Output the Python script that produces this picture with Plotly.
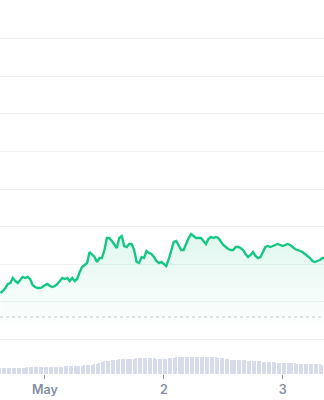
import pandas as pd
import plotly.graph_objects as go

# Price readings (arbitrary $ units), one every 30 minutes starting Apr 30 15:00
price = [
    1.083, 1.085, 1.088, 1.092, 1.093, 1.098, 1.095, 1.093, 1.096, 1.099,
    1.098, 1.099, 1.097, 1.091, 1.089, 1.088, 1.088, 1.089, 1.091, 1.092,
    1.090, 1.089, 1.090, 1.092, 1.095, 1.098, 1.097, 1.098, 1.095, 1.098,
    1.095, 1.097, 1.104, 1.109, 1.111, 1.113, 1.124, 1.121, 1.119, 1.114,
    1.118, 1.118, 1.126, 1.138, 1.138, 1.135, 1.131, 1.128, 1.138, 1.140,
    1.130, 1.129, 1.132, 1.132, 1.126, 1.114, 1.113, 1.119, 1.118, 1.125,
    1.123, 1.122, 1.119, 1.115, 1.113, 1.114, 1.112, 1.110, 1.117, 1.126,
    1.134, 1.135, 1.131, 1.126, 1.126, 1.132, 1.138, 1.142, 1.140, 1.138,
    1.138, 1.138, 1.135, 1.132, 1.137, 1.139, 1.138, 1.139, 1.138, 1.134,
    1.131, 1.129, 1.127, 1.126, 1.126, 1.129, 1.129, 1.128, 1.126, 1.122,
    1.119, 1.121, 1.124, 1.120, 1.118, 1.119, 1.124, 1.129, 1.130, 1.129,
    1.130, 1.131, 1.132, 1.131, 1.130, 1.131, 1.132, 1.131, 1.129, 1.127,
    1.126, 1.125, 1.124, 1.122, 1.120, 1.118, 1.115, 1.114, 1.115, 1.116,
    1.118, 1.118,
]

volume = [
    6, 6, 6, 6, 6, 6, 6, 6, 6, 6,
    6, 7, 7, 7, 7, 7, 7, 7, 7, 7,
    7, 7, 7, 7, 7, 7, 8, 8, 8, 8,
    8, 8, 8, 8, 9, 9, 9, 9, 10, 10,
    11, 12, 13, 13, 13, 14, 14, 14, 15, 15,
    15, 15, 15, 15, 15, 16, 16, 16, 16, 16,
    16, 16, 16, 15, 15, 15, 15, 15, 16, 16,
    16, 17, 17, 17, 17, 17, 17, 17, 17, 17,
    17, 17, 17, 17, 17, 17, 17, 17, 16, 16,
    16, 15, 15, 14, 14, 14, 14, 14, 14, 14,
    13, 13, 13, 13, 13, 13, 12, 12, 12, 12,
    12, 12, 11, 11, 11, 11, 11, 11, 11, 11,
    10, 10, 10, 10, 10, 10, 10, 10, 10, 10,
    9, 9,
]

times = pd.date_range("2024-04-30 15:00", periods=len(price), freq="30min")

tick_dates = ["2024-05-01", "2024-05-02", "2024-05-03"]
tick_labels = ["May", "2", "3"]

grid_levels = [1.037, 1.075, 1.112, 1.150, 1.187, 1.225, 1.263, 1.300, 1.338]
ref_price = 1.059

GREEN = "#16c784"

fig = go.Figure()

fig.add_trace(go.Bar(
    x=times, y=volume, yaxis="y2",
    marker=dict(color="#d8dcea", line=dict(width=0)),
    width=30 * 60 * 1000 * 0.55,
    hoverinfo="skip",
))

fig.add_trace(go.Scatter(
    x=times, y=price, mode="lines",
    line=dict(color=GREEN, width=2.4, shape="linear"),
    fill="tozeroy",
    fillgradient=dict(
        type="vertical",
        colorscale=[[0, "rgba(22,199,132,0)"], [1, "rgba(22,199,132,0.13)"]],
        start=1.045, stop=1.14,
    ),
    hoverinfo="skip",
))

fig.add_shape(type="line", xref="paper", x0=0, x1=1, yref="y",
              y0=ref_price, y1=ref_price,
              line=dict(color="#c3c8d2", width=1, dash="dot"))

fig.update_layout(
    width=324, height=400,
    margin=dict(l=0, r=0, t=0, b=26),
    paper_bgcolor="white", plot_bgcolor="white",
    showlegend=False,
    bargap=0,
    xaxis=dict(
        range=["2024-04-30 14:55", "2024-05-03 08:20"],
        tickvals=tick_dates, ticktext=tick_labels,
        ticks="outside", ticklen=4, tickcolor="#8a93a6", tickwidth=1,
        showgrid=False, zeroline=False, showline=False,
        tickfont=dict(family="Inter", size=12.5, color="#858ea1", weight=600),
    ),
    yaxis=dict(
        range=[1.002, 1.376],
        tickvals=grid_levels, showticklabels=False,
        showgrid=True, gridcolor="#eff2f5", gridwidth=1,
        zeroline=False, showline=False,
    ),
    yaxis2=dict(
        range=[0, 374], overlaying="y", visible=False,
    ),
)

fig.write_html("out.html", config={"displayModeBar": False})
